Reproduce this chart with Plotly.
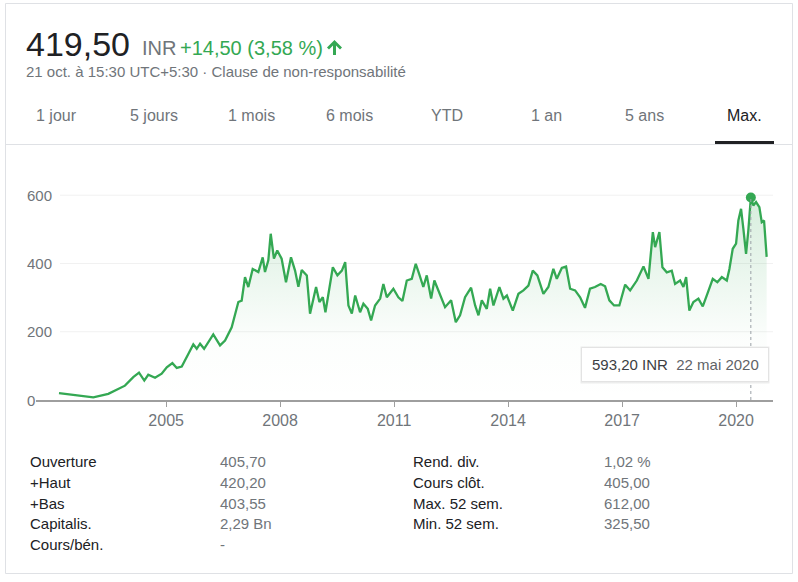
import plotly.graph_objects as go

# ---------------- data ----------------
dates = [
    "2002-03-08", "2002-10-12", "2003-02-01", "2003-06-25", "2003-09-14", "2003-12-02",
    "2004-02-20", "2004-04-15", "2004-06-05", "2004-07-13", "2004-09-16", "2004-11-19",
    "2005-01-07", "2005-03-02", "2005-04-13", "2005-05-31", "2005-08-02", "2005-09-19", "2005-10-22", "2005-11-23",
    "2006-01-01", "2006-03-30", "2006-06-03", "2006-07-21", "2006-09-23", "2006-11-26", "2006-12-28",
    "2007-01-29", "2007-03-02", "2007-04-13", "2007-06-06", "2007-07-18", "2007-08-09", "2007-09-10", "2007-10-03", "2007-11-03", "2007-12-05",
    "2008-01-16", "2008-02-27", "2008-04-15", "2008-05-24", "2008-06-25", "2008-07-27", "2008-09-14", "2008-10-15", "2008-11-10", "2008-12-12",
    "2009-01-13", "2009-02-15", "2009-03-12", "2009-04-26", "2009-05-22", "2009-07-05", "2009-08-17", "2009-09-18", "2009-10-19", "2009-11-21", "2009-12-23",
    "2010-02-08", "2010-03-12", "2010-04-23", "2010-05-25", "2010-07-02", "2010-08-20", "2010-09-20", "2010-10-23", "2010-12-25",
    "2011-02-11", "2011-03-22", "2011-05-03", "2011-06-20", "2011-07-28", "2011-08-29", "2011-10-09", "2011-11-11", "2011-12-23",
    "2012-01-23", "2012-03-18", "2012-05-05", "2012-07-02", "2012-08-16", "2012-09-26", "2012-11-13",
    "2013-01-10", "2013-02-18", "2013-03-22", "2013-04-23", "2013-06-10", "2013-07-12", "2013-08-13", "2013-10-09", "2013-11-17", "2013-12-20",
    "2014-02-15", "2014-04-10", "2014-05-28", "2014-07-15", "2014-08-26", "2014-10-09", "2014-12-06",
    "2015-01-23", "2015-03-12", "2015-04-14", "2015-06-01", "2015-07-12", "2015-08-20", "2015-10-07", "2015-11-24",
    "2016-01-10", "2016-02-27", "2016-04-15", "2016-06-09", "2016-07-21", "2016-08-31", "2016-10-15", "2016-12-05",
    "2017-01-30", "2017-03-19", "2017-05-22", "2017-07-25", "2017-09-11", "2017-10-23", "2017-11-14", "2017-12-25",
    "2018-01-23", "2018-03-06", "2018-04-23", "2018-05-25", "2018-07-12", "2018-08-13", "2018-09-08", "2018-10-09", "2018-11-17",
    "2019-01-04", "2019-02-15", "2019-03-31", "2019-05-22", "2019-07-05", "2019-08-17", "2019-10-04", "2019-10-29", "2019-11-30",
    "2020-01-01", "2020-01-23", "2020-02-18", "2020-03-11", "2020-04-06", "2020-04-28", "2020-05-22",
    "2020-06-15", "2020-07-11", "2020-08-12", "2020-09-04", "2020-09-26", "2020-10-15", "2020-10-21",
]
prices = [
    20, 13, 8, 18, 30, 42,
    67, 80, 57, 74, 65, 77,
    96, 108, 94, 98, 135, 163, 150, 165,
    150, 192, 160, 174, 213, 287, 291,
    360, 331, 384, 375, 418, 375, 409, 487, 414, 438,
    414, 345, 418, 379, 332, 381, 365, 253, 287, 331,
    287, 301, 257, 345, 389, 365, 379, 404, 277, 253, 306,
    257, 282, 267, 233, 277, 297, 340, 301, 326,
    301, 290, 350, 355, 399, 370, 331, 365, 297,
    350, 306, 272, 292, 228, 248, 301,
    329, 277, 248, 292, 267, 326, 277, 331, 297, 306,
    262, 311, 321, 335, 379, 365, 311,
    331, 384, 355, 387, 391, 326, 321, 301,
    270, 326, 331, 340, 333, 292, 277, 277,
    338, 321, 350, 391, 355, 492, 448, 492,
    389, 374, 379, 340, 350, 331, 360, 262, 287,
    297, 274, 311, 355, 345, 360, 350, 384, 443,
    458, 526, 560, 502, 428, 497, 593.2,
    570, 580, 565, 521, 526, 443, 419.5,
]
assert len(dates) == len(prices)

x_ticks = ["2005-01-01", "2008-01-01", "2011-01-01", "2014-01-01", "2017-01-01", "2020-01-01"]
x_tick_labels = ["2005", "2008", "2011", "2014", "2017", "2020"]
y_ticks = [0, 200, 400, 600]

hover_date = "2020-05-22"
hover_value = 593.2
mois = ["janv.", "févr.", "mars", "avr.", "mai", "juin", "juil.", "août", "sept.", "oct.", "nov.", "déc."]

tabs = ["1 jour", "5 jours", "1 mois", "6 mois", "YTD", "1 an", "5 ans", "Max."]
stats_left_labels = ["Ouverture", "+Haut", "+Bas", "Capitalis.", "Cours/bén."]
stats_left_values = ["405,70", "420,20", "403,55", "2,29 Bn", "-"]
stats_right_labels = ["Rend. div.", "Cours clôt.", "Max. 52 sem.", "Min. 52 sem."]
stats_right_values = ["1,02 %", "405,00", "612,00", "325,50"]

price_now = "419,50"
currency = "INR"
change = "+14,50 (3,58 %)"
subtitle = "21 oct. à 15:30 UTC+5:30 · Clause de non-responsabilité"

# ---------------- layout geometry ----------------
W, H = 798, 582
L, R, T, B = 36, 25, 180, 182
PW, PH = W - L - R, H - T - B


def px(x):
    return (x - L) / PW


def py(y):
    return (H - B - y) / PH


GREEN = "#34a853"
GREY = "#70757a"
DARK = "#202124"
FONT = "Arial, Liberation Sans, sans-serif"

fig = go.Figure()
fig.add_trace(go.Scatter(
    x=dates, y=prices, mode="lines",
    line=dict(color=GREEN, width=2.3),
    fill="tozeroy",
    fillgradient=dict(type="vertical",
                      colorscale=[[0, "rgba(52,168,83,0)"], [0.3, "rgba(52,168,83,0.015)"],
                                  [1, "rgba(52,168,83,0.2)"]]),
    hoverinfo="skip", showlegend=False,
))
fig.add_trace(go.Scatter(
    x=[hover_date], y=[hover_value], mode="markers",
    marker=dict(color=GREEN, size=10), showlegend=False, hoverinfo="skip",
))

shapes = []
ann = []

# card border
shapes.append(dict(type="rect", xref="paper", yref="paper", x0=px(5.5), x1=px(792.5), y0=py(3.5), y1=py(573.5),
                   line=dict(color="#dfe1e5", width=1), fillcolor="rgba(0,0,0,0)", layer="below"))
# gridlines
for v in y_ticks[1:]:
    shapes.append(dict(type="line", xref="paper", yref="y", x0=px(60), x1=1, y0=v, y1=v,
                       line=dict(color="#f1f1f1", width=1), layer="below"))
# dashed hover line
shapes.append(dict(type="line", xref="x", yref="y", x0=hover_date, x1=hover_date, y0=0, y1=hover_value,
                   line=dict(color="#9aa0a6", width=1, dash="3px,3px"), layer="above"))
# tooltip shadow and box
shapes.append(dict(type="rect", xref="paper", yref="paper", x0=px(580.5), x1=px(769.5), y0=py(346.5), y1=py(383.5),
                   line=dict(width=0), fillcolor="rgba(0,0,0,0.07)", layer="above"))
shapes.append(dict(type="rect", xref="paper", yref="paper", x0=px(581.5), x1=px(768.5), y0=py(347.5), y1=py(381.5),
                   line=dict(color="#e3e3e3", width=1), fillcolor="white", layer="above"))

# separator below tabs and active tab underline
shapes.append(dict(type="line", xref="paper", yref="paper", x0=px(5.5), x1=px(792.5), y0=py(144.5), y1=py(144.5),
                   line=dict(color="#dfe1e5", width=1)))
shapes.append(dict(type="rect", xref="paper", yref="paper", x0=px(715), x1=px(774), y0=py(141), y1=py(144),
                   line=dict(width=0), fillcolor=DARK))

# up arrow
arrow_pts = [(334.5, 40), (342, 47.5), (340, 49.5), (336, 45.5), (336, 55), (333, 55), (333, 45.5), (329, 49.5), (327, 47.5)]
path = "M " + " L ".join(f"{px(a):.5f},{py(b):.5f}" for a, b in arrow_pts) + " Z"
shapes.append(dict(type="path", xref="paper", yref="paper", path=path, fillcolor=GREEN, line=dict(width=0)))


def text(x, y, s, size, color, xanchor="left"):
    ann.append(dict(xref="paper", yref="paper", x=px(x), y=py(y), text=s, showarrow=False,
                    xanchor=xanchor, yanchor="middle", font=dict(size=size, color=color, family=FONT)))


# header
text(24, 44, price_now, 34, DARK)
text(140, 48, currency, 20, GREY)
text(178, 48, change, 20, GREEN)
text(24, 72, subtitle, 15, GREY)

# tabs
tab_centers = [56, 153.5, 251.5, 349.5, 447.5, 546.5, 644.5, 744]
for name, cx in zip(tabs, tab_centers):
    text(cx, 115, name, 16, DARK if name == "Max." else GREY, xanchor="center")

# y tick labels
for v in y_ticks:
    ann.append(dict(xref="paper", yref="y", x=px(25), y=v, text=str(v), showarrow=False,
                    xanchor="left", yanchor="middle", font=dict(size=15, color=GREY, family=FONT)))

# tooltip text
d = hover_date.split("-")
date_txt = f"{int(d[2])} {mois[int(d[1]) - 1]} {d[0]}"
val_txt = f"{hover_value:.2f}".replace(".", ",") + " INR"
text(590, 364.5, f'<span style="color:#3c4043">{val_txt}</span>&nbsp;&nbsp;<span style="color:#5f6368">{date_txt}</span>', 15, "#3c4043")

# stats table
rows_y = [461.5, 482.3, 503, 523.7, 544.4]
for i, (lab, val) in enumerate(zip(stats_left_labels, stats_left_values)):
    text(28, rows_y[i], lab, 15, DARK)
    text(218, rows_y[i], val, 15, GREY)
for i, (lab, val) in enumerate(zip(stats_right_labels, stats_right_values)):
    text(411, rows_y[i], lab, 15, DARK)
    text(602, rows_y[i], val, 15, GREY)

fig.update_layout(
    width=W, height=H,
    margin=dict(l=L, r=R, t=T, b=B),
    paper_bgcolor="white", plot_bgcolor="rgba(0,0,0,0)",
    shapes=shapes, annotations=ann,
    font=dict(family=FONT),
    xaxis=dict(type="date", range=["2001-07-30", "2020-12-21"], showgrid=False, zeroline=False,
               showline=True, linecolor="#9e9e9e", linewidth=2,
               tickmode="array", tickvals=x_ticks, ticktext=x_tick_labels,
               ticks="outside", ticklen=5, tickwidth=1, tickcolor="#9e9e9e",
               tickfont=dict(size=16, color=GREY, family=FONT)),
    yaxis=dict(range=[0, 600 * PH / 204.8], showgrid=False, zeroline=False, showticklabels=False,
               showline=False, fixedrange=True),
    showlegend=False,
)

fig.write_html("out.html", config={"displayModeBar": False})
